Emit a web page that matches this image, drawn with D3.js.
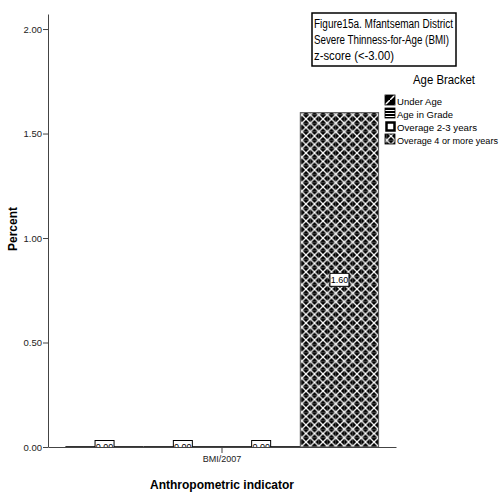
<!DOCTYPE html>
<html><head><meta charset="utf-8">
<script src="https://cdn.jsdelivr.net/npm/d3@7/dist/d3.min.js"></script>
<style>body{margin:0;background:#fff}svg{display:block}text{font-family:"Liberation Sans",Arial,sans-serif}</style>
</head><body>
<script>
const categories = ["BMI/2007"];
const series = ["Under Age", "Age in Grade", "Overage 2-3 years", "Overage 4 or more years"];
const values = [0.00, 0.00, 0.00, 1.60];
const yTicks = [0, 0.5, 1.0, 1.5, 2.0];
const titleLines = ["Figure15a. Mfantseman District", "Severe Thinness-for-Age (BMI)", "z-score (<-3.00)"];
const legendTitle = "Age Bracket";
const xTitle = "Anthropometric indicator";
const yTitle = "Percent";

const W = 504, H = 494;
const svg = d3.select("body").append("svg").attr("width", W).attr("height", H);
const defs = svg.append("defs");

// patterns
const p0 = defs.append("pattern").attr("id","pat0").attr("patternUnits","userSpaceOnUse").attr("width",10).attr("height",10);
p0.append("rect").attr("width",10).attr("height",10).attr("fill","#000");
p0.append("path").attr("d","M-1,11 L11,-1").attr("stroke","#fff").attr("stroke-width",1.5);
const p1 = defs.append("pattern").attr("id","pat1").attr("patternUnits","userSpaceOnUse").attr("width",4).attr("height",3);
p1.append("rect").attr("width",4).attr("height",3).attr("fill","#fff");
p1.append("rect").attr("width",4).attr("height",2).attr("fill","#000");
const p2 = defs.append("pattern").attr("id","pat2").attr("patternUnits","userSpaceOnUse").attr("width",8).attr("height",8);
p2.append("rect").attr("width",8).attr("height",8).attr("fill","#fff");
const p3 = defs.append("pattern").attr("id","pat3").attr("patternUnits","userSpaceOnUse").attr("width",8.5).attr("height",8.5);
p3.append("rect").attr("width",8.5).attr("height",8.5).attr("fill","#000");
p3.append("path").attr("d","M0,0 L8.5,8.5 M8.5,0 L0,8.5").attr("stroke","#fff").attr("stroke-width",1.3);
p3.append("path").attr("d","M4.25,0 L4.25,8.5 M0,4.25 L8.5,4.25").attr("stroke","#888").attr("stroke-width",0.5);
p3.append("circle").attr("cx",4.25).attr("cy",4.25).attr("r",1).attr("fill","#fff");

const y = d3.scaleLinear().domain([0, 2.072]).range([447, 14]);
const x0 = d3.scaleBand().domain(categories).range([48, 396]).padding(0);
const x1 = d3.scaleBand().domain(series).range([x0.bandwidth()*0.05, x0.bandwidth()*0.95]).padding(0);

// bars
const clip = defs.append("clipPath").attr("id","plotclip");
clip.append("rect").attr("x",48).attr("y",0).attr("width",400).attr("height",447);

const g = svg.append("g");
categories.forEach(cat => {
  series.forEach((s, i) => {
    const v = values[i];
    const bx = x0(cat) + x1(s);
    const bw = x1.bandwidth();
    if (v > 0) {
      g.append("rect").attr("x", bx).attr("y", y(v)).attr("width", bw).attr("height", y(0) - y(v))
        .attr("fill", `url(#pat${i})`).attr("stroke","#555").attr("stroke-width",1);
    } else {
      g.append("line").attr("x1",bx).attr("x2",bx+bw).attr("y1",y(0)-0.5).attr("y2",y(0)-0.5)
        .attr("stroke","#333").attr("stroke-width",1);
    }
    // value label
    const cx = bx + bw/2, cy = (y(v) + y(0))/2;
    const lg = g.append("g").attr("clip-path","url(#plotclip)");
    lg.append("rect").attr("x", cx-9.5).attr("y", cy-6.5).attr("width",19).attr("height",13)
      .attr("fill","#fff").attr("stroke","#000").attr("stroke-width",1);
    lg.append("text").attr("x",cx).attr("y",cy+3.2).attr("text-anchor","middle")
      .attr("font-size",9).attr("fill","#000").text(d3.format(".2f")(v));
  });
});

// axes
const yAxis = svg.append("g").attr("transform","translate(48,0)")
  .call(d3.axisLeft(y).tickValues(yTicks).tickFormat(d3.format(".2f")).tickSize(5).tickSizeOuter(0));
yAxis.select(".domain").attr("stroke","#444");
yAxis.selectAll(".tick line").attr("stroke","#444");
yAxis.selectAll("text").attr("font-size",9.5).attr("fill","#222").attr("x",-6).style("font-family","Liberation Sans, Arial, sans-serif");

const xAxis = svg.append("g").attr("transform","translate(0,447)")
  .call(d3.axisBottom(x0).tickSize(6).tickSizeOuter(0));
xAxis.select(".domain").attr("stroke","#444");
xAxis.selectAll(".tick line").attr("stroke","#444");
xAxis.selectAll("text").attr("font-size",9).attr("fill","#222").attr("y",9).style("font-family","Liberation Sans, Arial, sans-serif");

// axis titles
svg.append("text").attr("x",222).attr("y",489).attr("text-anchor","middle")
  .attr("font-size",12).attr("font-weight","bold").text(xTitle);
svg.append("text").attr("transform","translate(17,229) rotate(-90)").attr("text-anchor","middle")
  .attr("font-size",12).attr("font-weight","bold").text(yTitle);

// title box
svg.append("rect").attr("x",312).attr("y",13).attr("width",144).attr("height",53)
  .attr("fill","#fff").attr("stroke","#000").attr("stroke-width",1.5);
const tl = [28, 44, 60];
const tw = [139, 135, 80];
titleLines.forEach((t,i) => {
  svg.append("text").attr("x",314).attr("y",tl[i]).attr("font-size",12)
    .attr("textLength",tw[i]).attr("lengthAdjust","spacingAndGlyphs").text(t);
});

// legend
svg.append("text").attr("x",413).attr("y",84).attr("font-size",12)
  .attr("textLength",62).attr("lengthAdjust","spacingAndGlyphs").text(legendTitle);
const ly = [101, 114, 127, 140];
const lw = [45, 56, 80, 101];
series.forEach((s,i) => {
  if (i === 2) {
    svg.append("rect").attr("x",386.5).attr("y",ly[i]-4.5).attr("width",8).attr("height",8)
      .attr("fill","#fff").attr("stroke","#000").attr("stroke-width",2.5);
  } else {
    svg.append("rect").attr("x",385).attr("y",ly[i]-6).attr("width",10).attr("height",10)
      .attr("fill",`url(#pat${i})`).attr("stroke","#000").attr("stroke-width",0.8);
  }
  svg.append("text").attr("x",397).attr("y",ly[i]+3.5).attr("font-size",9.2)
    .attr("textLength",lw[i]).attr("lengthAdjust","spacingAndGlyphs").text(s);
});
</script>
</body></html>
